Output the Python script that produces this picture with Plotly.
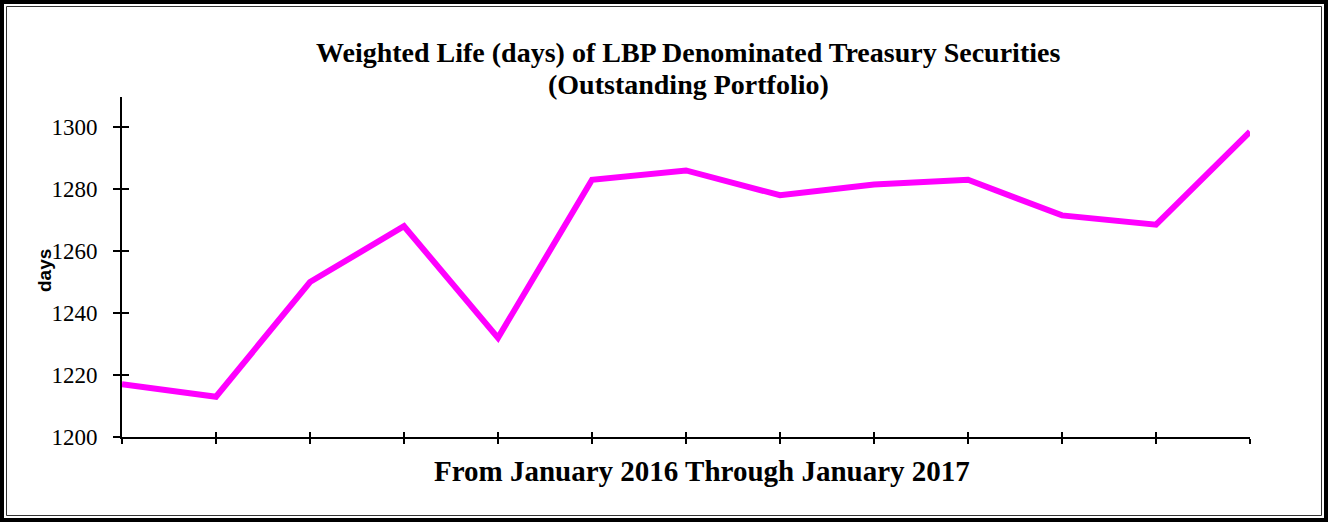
import plotly.graph_objects as go

months = ["Jan-16", "Feb-16", "Mar-16", "Apr-16", "May-16", "Jun-16", "Jul-16",
          "Aug-16", "Sep-16", "Oct-16", "Nov-16", "Dec-16", "Jan-17"]
weighted_life = [1217, 1213, 1250, 1268, 1232, 1283, 1286, 1278, 1281.5, 1283, 1271.5, 1268.5, 1298.5]
y_ticks = [1200, 1220, 1240, 1260, 1280, 1300]
title_lines = ["Weighted Life (days) of LBP Denominated Treasury Securities", "(Outstanding Portfolio)"]
x_title = "From January 2016 Through January 2017"
y_title = "days"

W, H = 1328, 522
L, R, T, B = 122, 78, 97, 85
PW, PH = W - L - R, H - T - B

def px(x):
    return (x - L) / PW

def py(y):
    return (H - B - y) / PH

fig = go.Figure()
fig.add_trace(go.Scatter(x=list(range(len(months))), y=weighted_life, mode="lines",
                         line=dict(color="#FF00FF", width=6), hoverinfo="skip",
                         showlegend=False, cliponaxis=False))
fig.add_trace(go.Scatter(x=[0, 12], y=[1200, 1300], xaxis="x2", yaxis="y2", mode="markers",
                         marker=dict(opacity=0), showlegend=False, hoverinfo="skip"))

serif = "Liberation Serif"
fig.update_layout(
    width=W, height=H, margin=dict(l=L, r=R, t=T, b=B),
    paper_bgcolor="white", plot_bgcolor="white",
    xaxis=dict(range=[0, 12], tickvals=list(range(len(months))), showticklabels=False,
               ticks="outside", ticklen=5, tickwidth=1.5, tickcolor="black",
               showline=True, linecolor="black", linewidth=2, showgrid=False, zeroline=False),
    yaxis=dict(range=[1200, 1309.7], tickvals=y_ticks, ticktext=[str(v) for v in y_ticks],
               ticks="outside", ticklen=7, tickwidth=1.5, tickcolor="black",
               ticklabelstandoff=11,
               tickfont=dict(family=serif, size=23, color="black"),
               showline=True, linecolor="black", linewidth=2, showgrid=False, zeroline=False),
    xaxis2=dict(range=[0, 12], tickvals=list(range(len(months))), overlaying="x",
                showticklabels=False, ticks="inside", ticklen=5, tickwidth=1.5,
                tickcolor="black", showgrid=False, zeroline=False, showline=False),
    yaxis2=dict(range=[1200, 1309.7], tickvals=y_ticks, overlaying="y", showticklabels=False,
                ticks="inside", ticklen=7, tickwidth=1.5, tickcolor="black",
                showgrid=False, zeroline=False, showline=False),
    showlegend=False,
)

fig.add_annotation(text="<b>%s</b>" % title_lines[0], xref="paper", yref="paper",
                   x=px(688), y=py(52), xanchor="center", yanchor="middle", showarrow=False,
                   font=dict(family=serif, size=28, color="black"))
fig.add_annotation(text="<b>%s</b>" % title_lines[1], xref="paper", yref="paper",
                   x=px(688), y=py(85), xanchor="center", yanchor="middle", showarrow=False,
                   font=dict(family=serif, size=28, color="black"))
fig.add_annotation(text="<b>%s</b>" % x_title, xref="paper", yref="paper",
                   x=px(702), y=py(471), xanchor="center", yanchor="middle", showarrow=False,
                   font=dict(family=serif, size=29, color="black"))
fig.add_annotation(text="<b>%s</b>" % y_title, textangle=-90, xref="paper", yref="paper",
                   x=px(44), y=py(271), xanchor="center", yanchor="middle", showarrow=False,
                   font=dict(family="Liberation Sans", size=19, color="black"))

fig.add_shape(type="rect", xref="paper", yref="paper",
              x0=px(2), x1=px(W - 2), y0=py(2), y1=py(H - 2),
              line=dict(color="black", width=4), layer="above")
fig.add_shape(type="rect", xref="paper", yref="paper",
              x0=px(6.5), x1=px(W - 6.5), y0=py(6.5), y1=py(H - 6.5),
              line=dict(color="#333333", width=1), layer="above")

fig.write_html("out.html", config={"displayModeBar": False},
               post_script="document.body.style.margin='0';document.body.style.overflow='hidden';")
